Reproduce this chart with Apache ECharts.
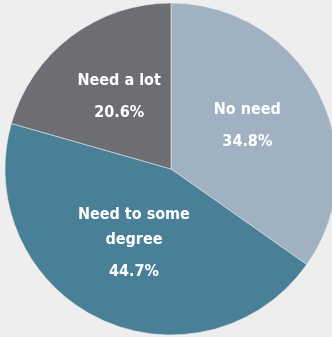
<!DOCTYPE html>
<html>
<head>
<meta charset="utf-8">
<script src="https://cdn.jsdelivr.net/npm/echarts@6/dist/echarts.min.js"></script>
<style>
  html, body { margin: 0; padding: 0; background: #eeeeee; }
  #chart { width: 332px; height: 337px; }
</style>
</head>
<body>
<div id="chart"></div>
<script>
// Share of respondents by level of need
const categories = ['No need', 'Need to some\ndegree', 'Need a lot'];
const shares = [34.8, 44.7, 20.6];
const sliceColors = ['#a0b2c2', '#4a7f98', '#6d6e73'];

const labelFont = '"DejaVu Sans Condensed", "Liberation Sans Narrow", "Roboto", sans-serif';

const chart = echarts.init(document.getElementById('chart'), null, { renderer: 'canvas' });

chart.setOption({
  backgroundColor: '#eeeeee',
  animation: false,
  series: [{
    type: 'pie',
    center: [171, 169],
    radius: [0, 166],
    startAngle: 90,
    clockwise: true,
    silent: true,
    itemStyle: { borderColor: '#e6e8ea', borderWidth: 0.6 },
    label: {
      show: true,
      position: 'inside',
      formatter: p => p.name.split('\n').map(s => '{n|' + s + '}').join('\n') + '\n{v|' + p.value + '%}',
      rich: {
        n: { fontFamily: labelFont, fontWeight: 'bold', fontSize: 16, color: '#ffffff', lineHeight: 25 },
        v: { fontFamily: labelFont, fontWeight: 'bold', fontSize: 16, color: '#ffffff', lineHeight: 39 }
      }
    },
    labelLine: { show: false },
    data: categories.map((name, i) => ({
      name,
      value: shares[i],
      itemStyle: { color: sliceColors[i] }
    }))
  }]
});
</script>
</body>
</html>
